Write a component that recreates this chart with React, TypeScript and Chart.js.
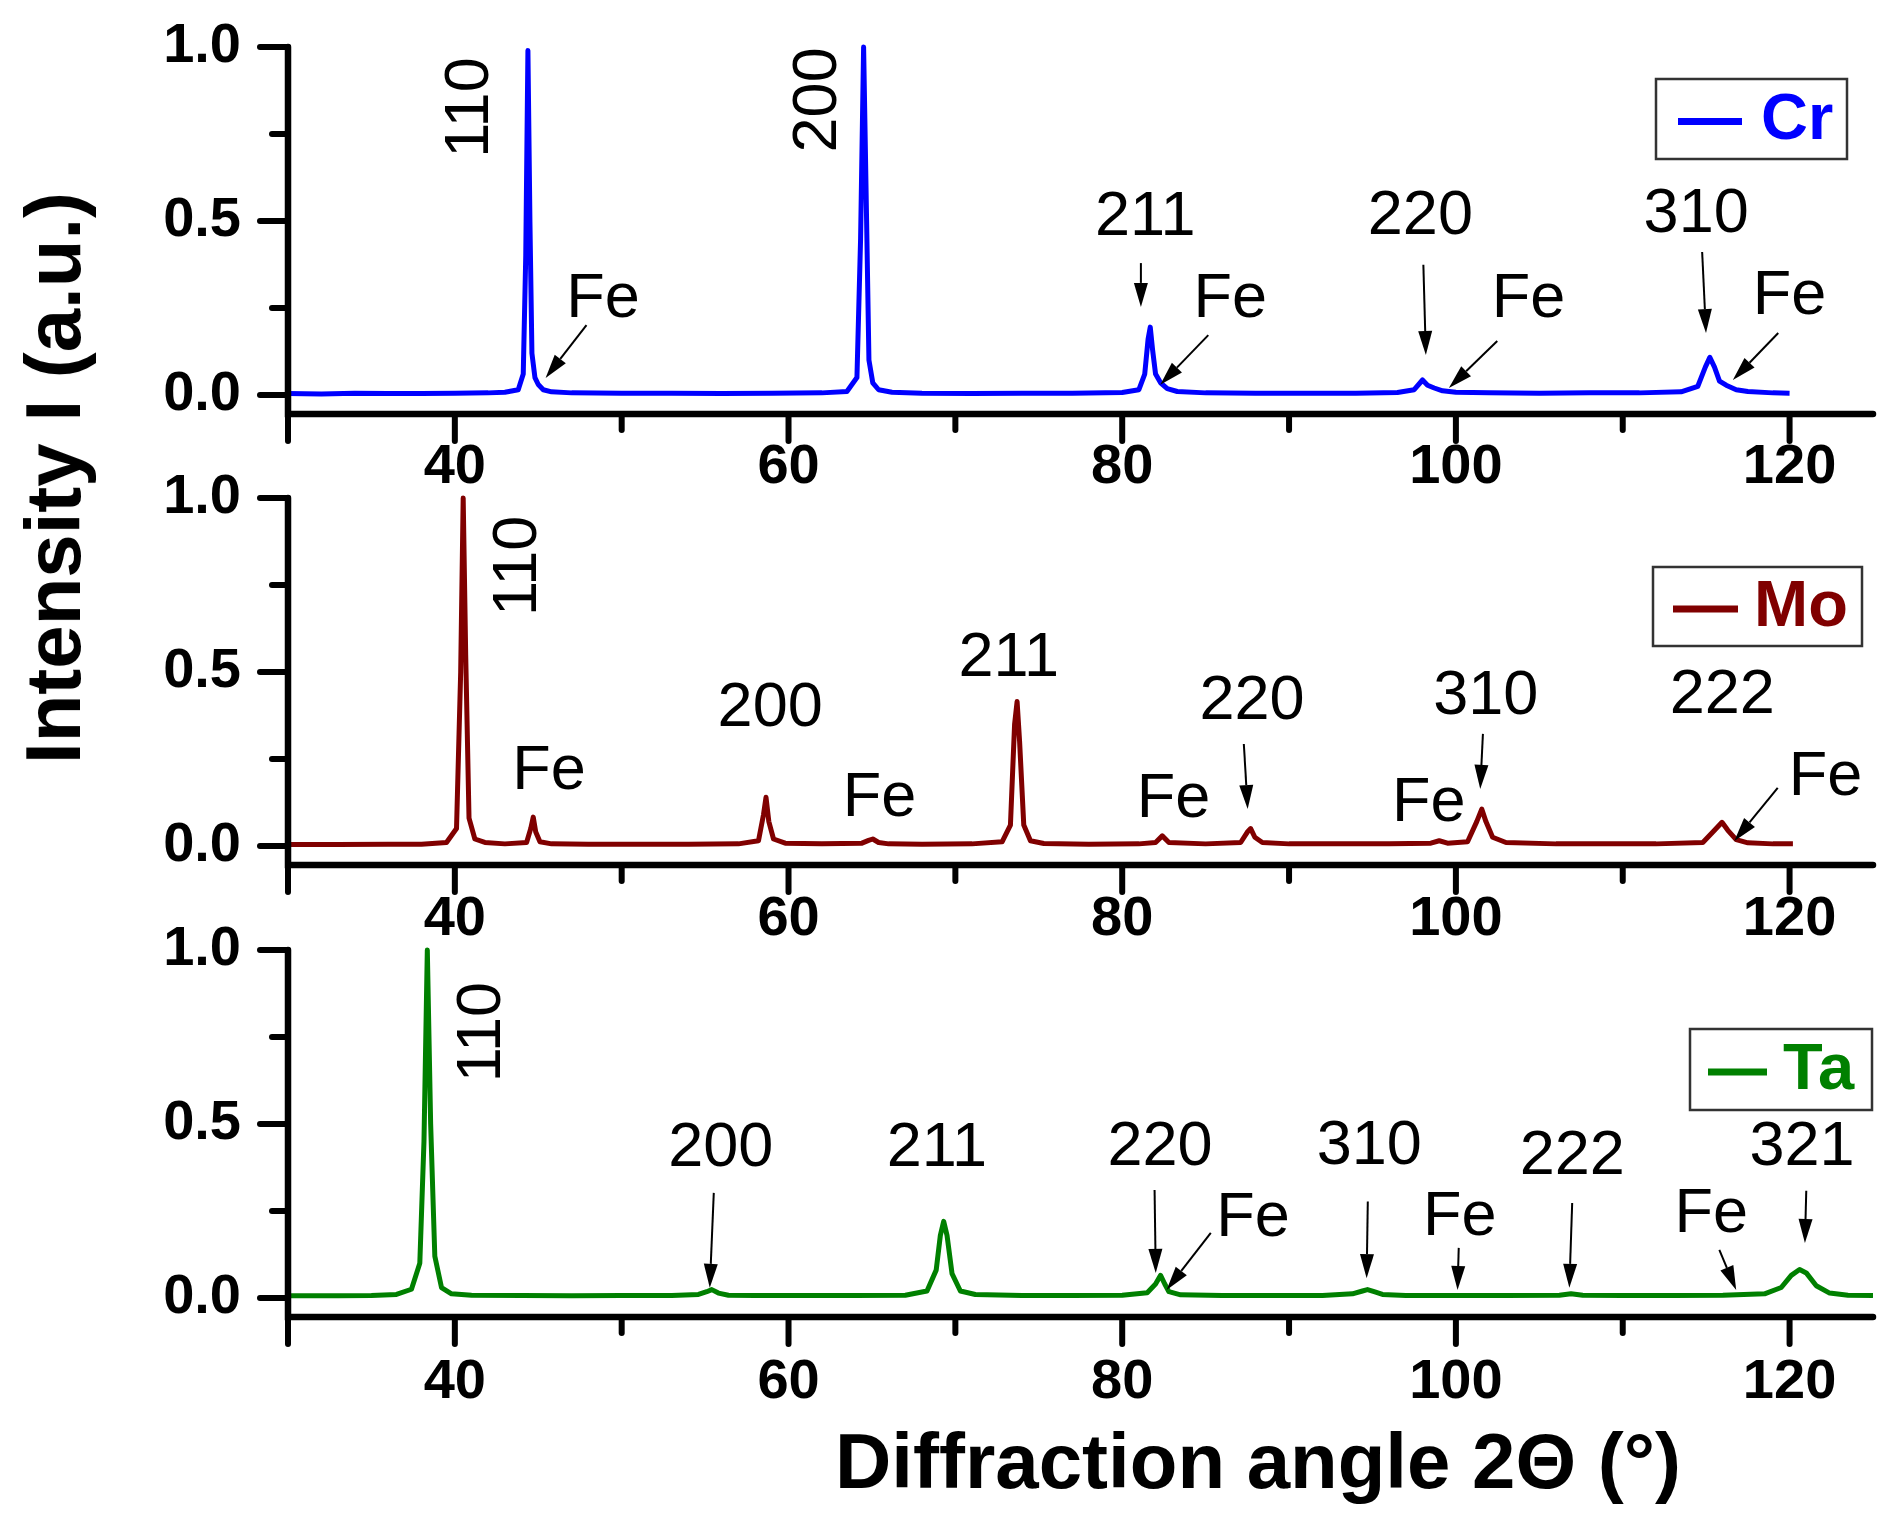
import React, { useEffect, useRef } from 'react';
import { Chart, registerables } from 'chart.js';

Chart.register(...registerables);

const FONT = '"Liberation Sans", Arial, Helvetica, sans-serif';

// ---- axis ticks ----
const xMajorTicks = [30, 40, 60, 80, 100, 120];
const xTickLabels = ['', '40', '60', '80', '100', '120'];
const xMinorTicks = [50, 70, 90, 110];
const yMajorTicks = [0, 0.5, 1.0];
const yTickLabels = ['0.0', '0.5', '1.0'];
const yMinorTicks = [0.25, 0.75];
const X_MIN = 30;
const X_MAX = 125;
const Y_MIN = -0.055;
const Y_MAX = 1.0;

// ---- series: [2Theta (deg), normalised intensity] ----
const crPattern: [number, number][] = [
  [30, 0.004], [32, 0.003], [34, 0.005], [36, 0.004], [38, 0.004], [40, 0.005], [42, 0.006], [43, 0.008],
  [43.8, 0.015], [44.1, 0.06], [44.25, 0.4], [44.38, 0.99], [44.5, 0.5], [44.62, 0.12], [44.8, 0.05],
  [45.0, 0.03], [45.3, 0.015], [45.8, 0.009], [47, 0.006], [50, 0.005], [53, 0.005], [56, 0.004],
  [59, 0.005], [62, 0.006], [63.5, 0.01], [64.1, 0.05], [64.32, 0.45], [64.5, 1.0], [64.68, 0.5],
  [64.82, 0.1], [65.05, 0.035], [65.4, 0.015], [66.2, 0.008], [68, 0.005], [71, 0.004], [74, 0.005],
  [77, 0.005], [80, 0.007], [81, 0.015], [81.35, 0.06], [81.55, 0.16], [81.68, 0.195], [81.82, 0.13],
  [82.0, 0.06], [82.3, 0.035], [82.7, 0.018], [83.3, 0.01], [85, 0.006], [88, 0.005], [91, 0.005],
  [94, 0.005], [96.5, 0.007], [97.5, 0.015], [98.0, 0.043], [98.3, 0.028], [98.7, 0.02], [99.2, 0.012],
  [100, 0.008], [102, 0.006], [105, 0.005], [108, 0.006], [111, 0.006], [113.5, 0.009], [114.5, 0.025],
  [114.95, 0.08], [115.22, 0.108], [115.5, 0.08], [115.8, 0.04], [116.2, 0.028], [116.8, 0.015],
  [117.5, 0.01], [119, 0.006], [120, 0.005],
];

const moPattern: [number, number][] = [
  [30, 0.004], [33, 0.004], [36, 0.005], [38, 0.005], [39.5, 0.01], [40.1, 0.05], [40.35, 0.5],
  [40.5, 1.0], [40.65, 0.55], [40.85, 0.08], [41.2, 0.02], [41.8, 0.01], [43, 0.006], [44.3, 0.01],
  [44.55, 0.05], [44.7, 0.083], [44.85, 0.04], [45.1, 0.012], [45.8, 0.006], [48, 0.005], [51, 0.005],
  [54, 0.005], [57, 0.006], [58.2, 0.015], [58.5, 0.09], [58.65, 0.14], [58.82, 0.07], [59.1, 0.02],
  [59.8, 0.008], [62, 0.006], [64.4, 0.008], [64.8, 0.016], [65.05, 0.02], [65.4, 0.01], [66, 0.006],
  [68, 0.005], [71, 0.006], [72.8, 0.012], [73.3, 0.06], [73.55, 0.35], [73.7, 0.415], [73.85, 0.3],
  [74.1, 0.06], [74.5, 0.015], [75.3, 0.007], [78, 0.005], [81, 0.006], [82.0, 0.01], [82.4, 0.029],
  [82.8, 0.01], [85, 0.006], [87.1, 0.01], [87.5, 0.04], [87.7, 0.05], [87.95, 0.025], [88.4, 0.01],
  [90, 0.006], [93, 0.006], [96, 0.006], [98.5, 0.008], [99.0, 0.015], [99.5, 0.008], [100.7, 0.012],
  [101.25, 0.07], [101.55, 0.106], [101.8, 0.07], [102.2, 0.025], [103, 0.01], [106, 0.006],
  [109, 0.006], [112, 0.006], [114.8, 0.01], [115.5, 0.045], [115.95, 0.068], [116.3, 0.045],
  [116.8, 0.018], [117.5, 0.009], [119, 0.006], [120.2, 0.006],
];

const taPattern: [number, number][] = [
  [30, 0.006], [33, 0.006], [35, 0.007], [36.5, 0.01], [37.4, 0.025], [37.9, 0.1], [38.15, 0.45],
  [38.35, 1.0], [38.55, 0.5], [38.8, 0.12], [39.2, 0.03], [39.8, 0.012], [41, 0.008], [44, 0.007],
  [47, 0.006], [50, 0.007], [53, 0.007], [54.6, 0.01], [55.1, 0.018], [55.4, 0.024], [55.8, 0.014],
  [56.4, 0.008], [58, 0.007], [61, 0.007], [64, 0.007], [67, 0.008], [68.3, 0.02], [68.85, 0.08],
  [69.1, 0.18], [69.3, 0.22], [69.5, 0.18], [69.8, 0.07], [70.3, 0.02], [71.2, 0.01], [74, 0.007],
  [77, 0.007], [80, 0.008], [81.5, 0.015], [82.0, 0.04], [82.3, 0.065], [82.55, 0.04], [82.8, 0.018],
  [83.5, 0.009], [86, 0.007], [89, 0.007], [92, 0.007], [93.8, 0.012], [94.4, 0.02], [94.7, 0.024],
  [95.1, 0.018], [95.6, 0.01], [97, 0.007], [100, 0.007], [103, 0.007], [106.2, 0.008], [106.9, 0.012],
  [107.6, 0.008], [110, 0.007], [113, 0.007], [116, 0.008], [118.5, 0.012], [119.5, 0.03],
  [120.1, 0.065], [120.6, 0.082], [121.0, 0.072], [121.6, 0.035], [122.4, 0.014], [123.5, 0.008],
  [125, 0.007],
];

// ---- annotations (data coordinates) ----
type Lbl = { text: string; x: number; y: number; rot?: boolean };
type Arr = { x1: number; y1: number; x2: number; y2: number };

const crLabels: Lbl[] = [
  { text: '110', x: 40.97, y: 0.826, rot: true },
  { text: '200', x: 61.8, y: 0.848, rot: true },
  { text: 'Fe', x: 48.88, y: 0.273 },
  { text: '211', x: 81.38, y: 0.509 },
  { text: 'Fe', x: 86.47, y: 0.273 },
  { text: '220', x: 97.87, y: 0.512 },
  { text: 'Fe', x: 104.35, y: 0.273 },
  { text: '310', x: 114.4, y: 0.519 },
  { text: 'Fe', x: 120.0, y: 0.282 },
];
const crArrows: Arr[] = [
  { x1: 47.89, y1: 0.201, x2: 45.44, y2: 0.049 },
  { x1: 81.12, y1: 0.379, x2: 81.12, y2: 0.253 },
  { x1: 85.16, y1: 0.172, x2: 82.28, y2: 0.029 },
  { x1: 98.05, y1: 0.374, x2: 98.2, y2: 0.115 },
  { x1: 102.48, y1: 0.155, x2: 99.58, y2: 0.02 },
  { x1: 114.76, y1: 0.411, x2: 114.99, y2: 0.178 },
  { x1: 119.32, y1: 0.178, x2: 116.6, y2: 0.043 },
];

const moLabels: Lbl[] = [
  { text: '110', x: 43.85, y: 0.805, rot: true },
  { text: 'Fe', x: 45.65, y: 0.213 },
  { text: '200', x: 58.9, y: 0.394 },
  { text: 'Fe', x: 65.46, y: 0.135 },
  { text: '211', x: 73.2, y: 0.537 },
  { text: 'Fe', x: 83.08, y: 0.133 },
  { text: '220', x: 87.78, y: 0.415 },
  { text: 'Fe', x: 98.38, y: 0.121 },
  { text: '310', x: 101.79, y: 0.43 },
  { text: '222', x: 115.97, y: 0.431 },
  { text: 'Fe', x: 122.15, y: 0.195 },
];
const moArrows: Arr[] = [
  { x1: 87.29, y1: 0.293, x2: 87.52, y2: 0.106 },
  { x1: 101.62, y1: 0.322, x2: 101.46, y2: 0.164 },
  { x1: 119.29, y1: 0.167, x2: 116.69, y2: 0.014 },
];

const taLabels: Lbl[] = [
  { text: '110', x: 41.69, y: 0.764, rot: true },
  { text: '200', x: 55.94, y: 0.428 },
  { text: '211', x: 68.89, y: 0.428 },
  { text: '220', x: 82.27, y: 0.431 },
  { text: 'Fe', x: 87.84, y: 0.227 },
  { text: '310', x: 94.81, y: 0.434 },
  { text: 'Fe', x: 100.23, y: 0.23 },
  { text: '222', x: 106.98, y: 0.405 },
  { text: 'Fe', x: 115.31, y: 0.239 },
  { text: '321', x: 120.75, y: 0.431 },
];
const taArrows: Arr[] = [
  { x1: 55.52, y1: 0.302, x2: 55.28, y2: 0.029 },
  { x1: 81.94, y1: 0.31, x2: 82.01, y2: 0.072 },
  { x1: 85.31, y1: 0.187, x2: 82.66, y2: 0.023 },
  { x1: 94.72, y1: 0.277, x2: 94.65, y2: 0.057 },
  { x1: 100.17, y1: 0.144, x2: 100.1, y2: 0.023 },
  { x1: 106.97, y1: 0.273, x2: 106.8, y2: 0.029 },
  { x1: 115.79, y1: 0.138, x2: 116.8, y2: 0.023 },
  { x1: 121.0, y1: 0.308, x2: 120.92, y2: 0.158 },
];

// ---- layout (page pixels) ----
type Panel = {
  name: string;
  color: string;
  pattern: [number, number][];
  labels: Lbl[];
  arrows: Arr[];
  canvasTop: number;
  canvasHeight: number;
  chartTop: number;
  chartBottom: number;
  tickPad: number;
  legend: { x: number; y: number; w: number; h: number; lx1: number; lx2: number; ly: number; tx: number; ty: number };
};

const W = 1898;
const PLOT_LEFT = 288;
const PLOT_RIGHT = 1873;

const panels: Panel[] = [
  {
    name: 'Cr', color: '#0000ff', pattern: crPattern, labels: crLabels, arrows: crArrows,
    canvasTop: 0, canvasHeight: 500, chartTop: 47, chartBottom: 414.1, tickPad: 20,
    legend: { x: 1656, y: 79, w: 191, h: 80, lx1: 1678, lx2: 1742, ly: 121.5, tx: 1761, ty: 121.5 },
  },
  {
    name: 'Mo', color: '#800000', pattern: moPattern, labels: moLabels, arrows: moArrows,
    canvasTop: 450, canvasHeight: 500, chartTop: 498, chartBottom: 865.1, tickPad: 21,
    legend: { x: 1653, y: 567, w: 209, h: 79, lx1: 1673, lx2: 1738, ly: 609, tx: 1754, ty: 608.5 },
  },
  {
    name: 'Ta', color: '#008000', pattern: taPattern, labels: taLabels, arrows: taArrows,
    canvasTop: 902, canvasHeight: 526, chartTop: 950, chartBottom: 1317.1, tickPad: 32,
    legend: { x: 1690, y: 1029, w: 182, h: 81, lx1: 1708, lx2: 1767, ly: 1072, tx: 1783, ty: 1071 },
  },
];

function drawArrow(ctx: CanvasRenderingContext2D, x1: number, y1: number, x2: number, y2: number) {
  const headLen = 24;
  const headHalf = 7;
  const dx = x2 - x1;
  const dy = y2 - y1;
  const len = Math.hypot(dx, dy) || 1;
  const ux = dx / len;
  const uy = dy / len;
  const bx = x2 - ux * headLen;
  const by = y2 - uy * headLen;
  ctx.beginPath();
  ctx.moveTo(x1, y1);
  ctx.lineTo(bx, by);
  ctx.lineWidth = 2;
  ctx.strokeStyle = '#000';
  ctx.stroke();
  ctx.beginPath();
  ctx.moveTo(x2, y2);
  ctx.lineTo(bx - uy * headHalf, by + ux * headHalf);
  ctx.lineTo(bx + uy * headHalf, by - ux * headHalf);
  ctx.closePath();
  ctx.fillStyle = '#000';
  ctx.fill();
}

function buildChart(canvas: HTMLCanvasElement, p: Panel, padTop: number, padRight: number) {
  const xHeight = p.canvasTop + p.canvasHeight - p.chartBottom;
  const decor = {
    id: 'decor' + p.name,
    afterDraw(chart: any) {
      const { ctx, chartArea } = chart;
      const xs = chart.scales.x;
      const ys = chart.scales.y;
      ctx.save();
      // annotation labels
      ctx.fillStyle = '#000';
      ctx.font = `63px ${FONT}`;
      ctx.textAlign = 'center';
      ctx.textBaseline = 'middle';
      for (const l of p.labels) {
        const px = xs.getPixelForValue(l.x);
        const py = ys.getPixelForValue(l.y);
        if (l.rot) {
          ctx.save();
          ctx.translate(px, py);
          ctx.rotate(-Math.PI / 2);
          ctx.fillText(l.text, 0, 0);
          ctx.restore();
        } else {
          ctx.fillText(l.text, px, py);
        }
      }
      for (const a of p.arrows) {
        drawArrow(
          ctx,
          xs.getPixelForValue(a.x1), ys.getPixelForValue(a.y1),
          xs.getPixelForValue(a.x2), ys.getPixelForValue(a.y2),
        );
      }
      // axes
      const L = chartArea.left;
      const B = chartArea.bottom;
      ctx.strokeStyle = '#000';
      ctx.lineCap = 'round';
      ctx.lineWidth = 6.5;
      ctx.beginPath();
      ctx.moveTo(L, ys.getPixelForValue(Y_MAX));
      ctx.lineTo(L, B);
      ctx.lineTo(chartArea.right, B);
      ctx.stroke();
      ctx.lineWidth = 6;
      for (const v of xMajorTicks) {
        const px = xs.getPixelForValue(v);
        ctx.beginPath(); ctx.moveTo(px, B); ctx.lineTo(px, B + 27); ctx.stroke();
      }
      for (const v of xMinorTicks) {
        const px = xs.getPixelForValue(v);
        ctx.beginPath(); ctx.moveTo(px, B); ctx.lineTo(px, B + 16); ctx.stroke();
      }
      for (const v of yMajorTicks) {
        const py = ys.getPixelForValue(v);
        ctx.beginPath(); ctx.moveTo(L, py); ctx.lineTo(L - 28, py); ctx.stroke();
      }
      for (const v of yMinorTicks) {
        const py = ys.getPixelForValue(v);
        ctx.beginPath(); ctx.moveTo(L, py); ctx.lineTo(L - 16, py); ctx.stroke();
      }
      // legend box
      const lg = p.legend;
      const off = p.canvasTop;
      ctx.lineCap = 'butt';
      ctx.lineWidth = 2.5;
      ctx.strokeStyle = '#333';
      ctx.strokeRect(lg.x, lg.y - off, lg.w, lg.h);
      ctx.lineWidth = 7;
      ctx.strokeStyle = p.color;
      ctx.beginPath();
      ctx.moveTo(lg.lx1, lg.ly - off);
      ctx.lineTo(lg.lx2, lg.ly - off);
      ctx.stroke();
      ctx.fillStyle = p.color;
      ctx.font = `bold 65px ${FONT}`;
      ctx.textAlign = 'left';
      ctx.textBaseline = 'middle';
      ctx.fillText(chart.data.datasets[0].label, lg.tx, lg.ty - off);
      ctx.restore();
    },
  };

  return new Chart(canvas, {
    type: 'line',
    data: {
      datasets: [
        {
          label: p.name,
          data: p.pattern.map(([x, y]) => ({ x, y })),
          borderColor: p.color,
          borderWidth: 5,
          pointRadius: 0,
          tension: 0,
          fill: false,
          clip: false as any,
          borderJoinStyle: 'round',
        },
      ],
    },
    options: {
      animation: false,
      responsive: false,
      maintainAspectRatio: false,
      devicePixelRatio: 1,
      layout: {
        autoPadding: false,
        padding: { top: padTop, left: 0, right: padRight, bottom: 0 },
      },
      plugins: { legend: { display: false }, tooltip: { enabled: false }, title: { display: false } },
      scales: {
        x: {
          type: 'linear',
          min: X_MIN,
          max: X_MAX,
          bounds: 'data',
          grid: { display: false, drawTicks: false },
          border: { display: false },
          afterBuildTicks: (s: any) => {
            s.ticks = [...xMajorTicks, ...xMinorTicks].sort((a, b) => a - b).map((v) => ({ value: v }));
          },
          afterFit: (s: any) => {
            s.height = xHeight;
          },
          ticks: {
            autoSkip: false,
            maxRotation: 0,
            minRotation: 0,
            padding: p.tickPad,
            color: '#000',
            font: { family: FONT, size: 56, weight: 'bold' },
            callback: (v: any) => {
              const i = xMajorTicks.indexOf(Number(v));
              return i >= 0 ? xTickLabels[i] : '';
            },
          },
        },
        y: {
          type: 'linear',
          min: Y_MIN,
          max: Y_MAX,
          bounds: 'data',
          // invisible tick marks provide the gap between labels and axis, so that the
          // label gap does not inflate the plot's top padding
          grid: {
            display: true,
            drawOnChartArea: false,
            drawTicks: true,
            tickLength: 47,
            tickColor: 'rgba(0,0,0,0)',
            color: 'rgba(0,0,0,0)',
          },
          border: { display: false },
          afterBuildTicks: (s: any) => {
            s.ticks = [...yMajorTicks, ...yMinorTicks].sort((a, b) => a - b).map((v) => ({ value: v }));
          },
          afterFit: (s: any) => {
            s.width = PLOT_LEFT;
          },
          ticks: {
            autoSkip: false,
            padding: 0,
            color: '#000',
            font: { family: FONT, size: 56, weight: 'bold' },
            callback: (v: any) => {
              const i = yMajorTicks.indexOf(Number(v));
              return i >= 0 ? yTickLabels[i] : '';
            },
          },
        },
      },
    } as any,
    plugins: [decor],
  });
}

function makeChart(canvas: HTMLCanvasElement, p: Panel) {
  let padTop = p.chartTop - p.canvasTop;
  let padRight = W - PLOT_RIGHT;
  let chart = buildChart(canvas, p, padTop, padRight);
  const wantTop = p.chartTop - p.canvasTop;
  for (let k = 0; k < 2; k++) {
    const ca = chart.chartArea;
    const dTop = ca.top - wantTop;
    const dRight = ca.right - PLOT_RIGHT;
    if (Math.abs(dTop) < 0.3 && Math.abs(dRight) < 0.3) break;
    padTop = Math.max(0, padTop - dTop);
    padRight = padRight + dRight;
    chart.destroy();
    chart = buildChart(canvas, p, padTop, padRight);
  }
  return chart;
}

export default function App() {
  const refs = [useRef<HTMLCanvasElement>(null), useRef<HTMLCanvasElement>(null), useRef<HTMLCanvasElement>(null)];

  useEffect(() => {
    const charts = panels.map((p, i) => makeChart(refs[i].current as HTMLCanvasElement, p));
    return () => charts.forEach((c) => c.destroy());
  }, []);

  return (
    <div
      style={{
        position: 'absolute',
        left: 0,
        top: 0,
        width: W,
        height: 1528,
        background: '#fff',
        overflow: 'hidden',
        fontFamily: FONT,
      }}
    >
      {panels.map((p, i) => (
        <canvas
          key={p.name}
          ref={refs[i]}
          width={W}
          height={p.canvasHeight}
          style={{ position: 'absolute', left: 0, top: p.canvasTop, width: W, height: p.canvasHeight }}
        />
      ))}
      <div
        style={{
          position: 'absolute',
          left: 53,
          top: 478,
          transform: 'translate(-50%, -50%) rotate(-90deg)',
          fontSize: 78,
          fontWeight: 'bold',
          lineHeight: 1,
          whiteSpace: 'nowrap',
          color: '#000',
        }}
      >
        Intensity I (a.u.)
      </div>
      <div
        style={{
          position: 'absolute',
          left: 1258,
          top: 1461,
          transform: 'translate(-50%, -50%)',
          fontSize: 78,
          fontWeight: 'bold',
          lineHeight: 1,
          whiteSpace: 'nowrap',
          color: '#000',
        }}
      >
        Diffraction angle 2Θ (°)
      </div>
    </div>
  );
}
